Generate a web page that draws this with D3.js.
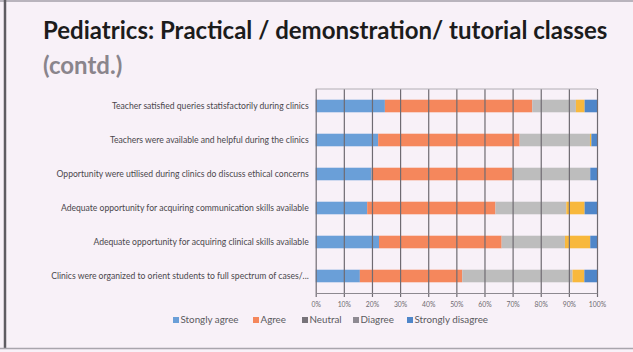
<!DOCTYPE html>
<html>
<head>
<meta charset="utf-8">
<script src="https://cdn.jsdelivr.net/npm/d3@7"></script>
<style>
  body { margin: 0; background: #f8f1f8; }
  svg { display: block; }
</style>
</head>
<body>
<div id="chart-area"></div>
<script>
// questions, top to bottom
var categories = [
    "Teacher satisfied queries  statisfactorily during clinics",
    "Teachers were available and helpful during the clinics",
    "Opportunity were utilised during clinics do discuss ethical concerns",
    "Adequate opportunity for acquiring communication skills available",
    "Adequate opportunity for acquiring clinical skills available",
    "Clinics were organized to orient students to full spectrum of cases/..."
];
var seriesNames = ["Stongly agree", "Agree", "Neutral", "Diagree", "Strongly disagree"];
// percent of responses per question
var stronglyAgree    = [24.6, 22.2, 19.9, 18.3, 22.5, 15.7];
var agree            = [52.4, 50.3, 50.1, 45.6, 43.6, 36.4];
var neutral          = [15.5, 25.0, 27.6, 25.2, 22.5, 39.2];
var disagree         = [3.1, 0.5, 0.0, 6.5, 9.0, 4.2];
var stronglyDisagree = [4.4, 2.0, 2.4, 4.4, 2.4, 4.5];
var tickValues = [0, 10, 20, 30, 40, 50, 60, 70, 80, 90, 100];

var colors = ["#6a9fd8", "#f5875c", "#bdbdbd", "#f8b83c", "#4f86c9"];

var W = 633, H = 352;
var svg = d3.select("#chart-area")
    .append("svg")
    .attr("width", W)
    .attr("height", H);

// slide frame
svg.append("rect").attr("x", 0).attr("y", 0).attr("width", W).attr("height", H).attr("fill", "#f8f1f8");
svg.append("line").attr("x1", 0).attr("x2", W).attr("y1", 1).attr("y2", 1)
    .attr("stroke", "#b9b4bd").attr("stroke-width", 2);
svg.append("line").attr("x1", 5).attr("x2", 5).attr("y1", 0).attr("y2", 349)
    .attr("stroke", "#5f5c62").attr("stroke-width", 2.5);
svg.append("line").attr("x1", 0).attr("x2", W).attr("y1", 348.5).attr("y2", 348.5)
    .attr("stroke", "#a9a5ad").attr("stroke-width", 1.5);

// title
svg.append("text")
    .attr("x", 43).attr("y", 39)
    .attr("font-family", "Lato, 'Open Sans', sans-serif")
    .attr("font-weight", "bold")
    .attr("font-size", 24)
    .attr("fill", "#1c1c1c")
    .text("Pediatrics: Practical / demonstration/ tutorial classes");
svg.append("text")
    .attr("x", 43).attr("y", 74)
    .attr("font-family", "Lato, 'Open Sans', sans-serif")
    .attr("font-weight", "bold")
    .attr("font-size", 24)
    .attr("fill", "#8a858c")
    .text("(contd.)");

var margin = {left: 315.7, right: 36, top: 89, bottom: 59};
var x = d3.scaleLinear().domain([0, 100]).range([margin.left, W - margin.right]);
var y = d3.scaleBand().domain(categories)
    .range([margin.top, H - margin.bottom])
    .paddingInner(0.63).paddingOuter(0.315);

var rows = categories.map((c, i) => {
    return {
        cat: c,
        s0: stronglyAgree[i], s1: agree[i], s2: neutral[i],
        s3: disagree[i], s4: stronglyDisagree[i]
    };
});
var stack = d3.stack().keys(["s0", "s1", "s2", "s3", "s4"])(rows);

// bars
var g = svg.append("g");
stack.forEach((layer, k) => {
    g.selectAll(".bar" + k).data(layer).enter()
        .append("rect")
            .attr("x", (d) => x(d[0]))
            .attr("width", (d) => x(d[1]) - x(d[0]))
            .attr("y", (d) => y(d.data.cat))
            .attr("height", y.bandwidth())
            .attr("fill", colors[k]);
});

// vertical gridlines drawn over the bars, as in the picture
var grid = svg.append("g")
    .attr("transform", "translate(0," + margin.top + ")")
    .call(d3.axisBottom(x).tickValues(tickValues)
        .tickSize(H - margin.bottom - margin.top + 4).tickFormat(""));
grid.select(".domain").remove();
grid.selectAll("line").attr("stroke", "#6f6b72").attr("stroke-width", 1.2);

svg.append("line")
    .attr("x1", x(0)).attr("x2", x(100))
    .attr("y1", margin.top).attr("y2", margin.top)
    .attr("stroke", "#b2aeb5").attr("stroke-width", 1);

var xAxis = svg.append("g")
    .attr("transform", "translate(0," + (H - margin.bottom) + ")")
    .call(d3.axisBottom(x).tickValues(tickValues).tickSize(0).tickPadding(9)
        .tickFormat((d) => d + "%"));
xAxis.select(".domain").attr("stroke", "#8d8990");
xAxis.selectAll("text")
    .attr("font-family", "Lato, sans-serif")
    .attr("font-size", 6.8)
    .attr("fill", "#6e6a70");

// category labels
var yAxis = svg.append("g")
    .attr("transform", "translate(" + (margin.left - 3) + ",0)")
    .call(d3.axisLeft(y).tickSize(0).tickPadding(4));
yAxis.select(".domain").remove();
yAxis.selectAll("text")
    .attr("font-family", "Lato, sans-serif")
    .attr("font-size", 8.6)
    .attr("fill", "#4a474c");

// legend
var legendX = [173, 253, 302, 353, 407];
var legend = svg.append("g").attr("transform", "translate(0,320)");
seriesNames.forEach((name, i) => {
    legend.append("rect")
        .attr("x", legendX[i]).attr("y", -3)
        .attr("width", 6).attr("height", 6)
        .attr("fill", i == 3 ? "#8e8a92" : (i == 2 ? "#77737a" : colors[i]));
    legend.append("text")
        .attr("x", legendX[i] + 7.5).attr("y", 0)
        .attr("dy", "0.35em")
        .attr("font-family", "Lato, sans-serif")
        .attr("font-size", 9.8)
        .attr("fill", "#5a5a5e")
        .text(name);
});
</script>
</body>
</html>
